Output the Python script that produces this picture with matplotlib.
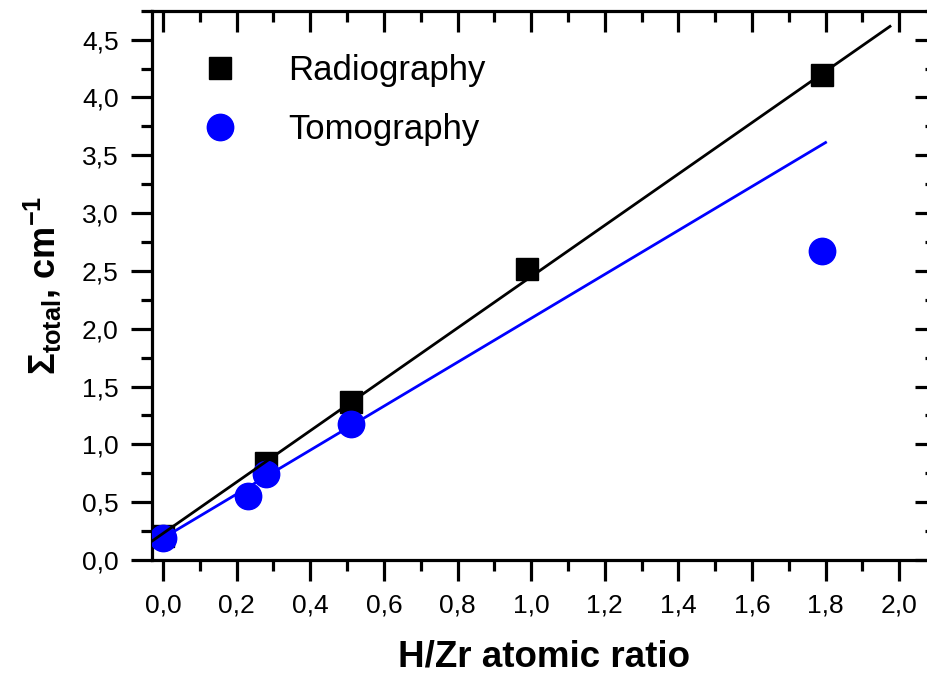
import numpy as np
from matplotlib import pyplot as plt
from matplotlib.ticker import MultipleLocator, FuncFormatter

plt.rcParams['font.family'] = ['Liberation Sans', 'DejaVu Sans']
plt.rcParams['mathtext.fontset'] = 'custom'
plt.rcParams['mathtext.rm'] = 'Liberation Sans'
plt.rcParams['mathtext.bf'] = 'Liberation Sans:bold'

# measured points
radio_x = [0.0, 0.28, 0.51, 0.99, 1.79]
radio_y = [0.21, 0.84, 1.37, 2.52, 4.19]
tomo_x = [0.0, 0.23, 0.28, 0.51, 1.79]
tomo_y = [0.19, 0.55, 0.74, 1.18, 2.67]

# linear fits: intercept, slope, x range
radio_fit = [0.23, 2.22]
radio_fit_range = [-0.03, 1.975]
tomo_fit = [0.19, 1.90]
tomo_fit_range = [0.0, 1.80]


def comma(v, pos):
    return ('%.1f' % v).replace('.', ',')


fig = plt.figure(figsize=(9.28, 6.79), dpi=100)
ax = fig.add_axes([152 / 928, 119 / 679, 784 / 928, 549.3 / 679])

ax.plot(radio_x, radio_y, 's', color='black', markersize=16.5, label='Radiography', zorder=2)
ax.plot(tomo_x, tomo_y, 'o', color='blue', markersize=19, label='Tomography', zorder=3)

# fit lines
xr = np.array(radio_fit_range)
ax.plot(xr, radio_fit[0] + radio_fit[1] * xr, color='black', linewidth=2, zorder=4)
xt = np.array(tomo_fit_range)
ax.plot(xt, tomo_fit[0] + tomo_fit[1] * xt, color='blue', linewidth=2, zorder=4)

ax.set_xlim(-0.03, 2.10)
ax.set_ylim(0, 4.75)

ax.xaxis.set_major_locator(MultipleLocator(0.2))
ax.xaxis.set_minor_locator(MultipleLocator(0.1))
ax.yaxis.set_major_locator(MultipleLocator(0.5))
ax.yaxis.set_minor_locator(MultipleLocator(0.25))
ax.xaxis.set_major_formatter(FuncFormatter(comma))
ax.yaxis.set_major_formatter(FuncFormatter(comma))

for s in ax.spines.values():
    s.set_linewidth(2.3)

ax.tick_params(which='both', width=2.3, labelsize=19, direction='out',
               top=True, right=True)
ax.tick_params(which='major', length=15, pad=9)
ax.tick_params(which='minor', length=8)
# Origin style: bottom/left outward, top/right inward
for t in ax.xaxis.get_major_ticks() + ax.xaxis.get_minor_ticks():
    t.tick2line.set_marker(3)
for t in ax.yaxis.get_major_ticks() + ax.yaxis.get_minor_ticks():
    t.tick2line.set_marker(0)

ax.set_xlabel('H/Zr atomic ratio', fontsize=26.5, fontweight='bold', labelpad=16)
ax.set_ylabel(r'$\mathbf{\Sigma_{total}}$, cm$^{\mathbf{-1}}$', fontsize=26,
              fontweight='bold', labelpad=13)

ax.legend(loc='upper left', bbox_to_anchor=(0.043, 0.953), frameon=False,
          fontsize=25, handlelength=1.0, handletextpad=1.45, labelspacing=0.76,
          borderpad=0, numpoints=1)

fig.savefig('out.png', dpi=100)
